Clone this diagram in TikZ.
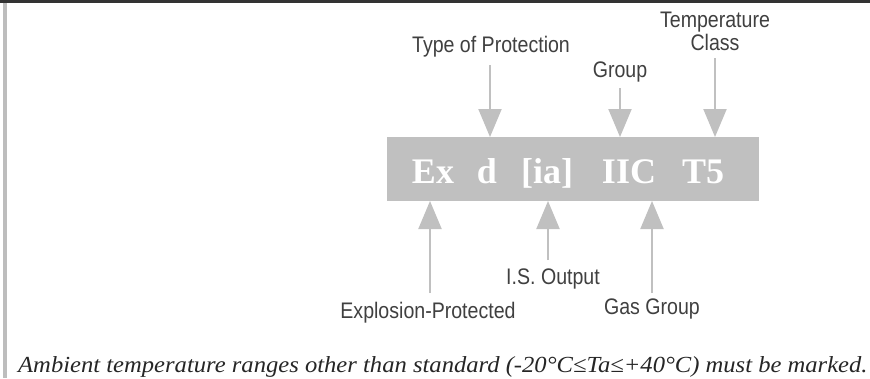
\documentclass[tikz,border=0pt]{standalone}
\usepackage{fontspec}
\usetikzlibrary{arrows.meta}
\newfontfamily\labfont[FakeStretch=0.87]{Liberation Sans}
\newfontfamily\boxfont{Liberation Serif}
\newfontfamily\capfont[FakeStretch=1.07]{Liberation Serif}
\definecolor{boxgray}{HTML}{C0C0C0}
\definecolor{labgray}{HTML}{404040}
\definecolor{bargray}{HTML}{333333}
\definecolor{edgegray}{HTML}{BDBDBD}
\tikzset{
  lab/.style={inner sep=0pt, anchor=base, text=labgray, font=\labfont\fontsize{22.5}{24}\selectfont},
  tok/.style={inner sep=0pt, anchor=base, text=white, font=\boxfont\bfseries\fontsize{36}{40}\selectfont},
  arr/.style={draw=boxgray, line width=2pt, -{Triangle[width=23pt,length=28pt]}},
}
\begin{document}
\begin{tikzpicture}[x=1pt,y=-1pt]
\useasboundingbox (0,0) rectangle (870,378);
\fill[white] (0,0) rectangle (870,378);
\fill[bargray] (0,0) rectangle (870,3);
\fill[edgegray] (3,3) rectangle (7,378);
% box
\node[fill=boxgray, inner sep=0pt, minimum width=372pt, minimum height=64pt, anchor=north west] (box) at (387,137) {};
\node[tok] (ex) at (433,183) {Ex};
\node[tok] (d) at (487,183) {d};
\node[tok] (ia) at (547,183) {[ia]};
\node[tok] (iic) at (629,183) {IIC};
\node[tok] (t5) at (703,183) {T5};
% top labels
\node[lab] (tp) at (491,52) {Type of Protection};
\node[lab] (grp) at (620,77) {Group};
\node[lab] (tc1) at (715,27) {Temperature};
\node[lab] (tc2) at (715,50) {Class};
% bottom labels
\node[lab] (ep) at (428,318) {Explosion-Protected};
\node[lab] (iso) at (553,284) {I.S. Output};
\node[lab] (gg) at (652,314) {Gas Group};
% arrow endpoints
\coordinate (tpS) at (490,65);  \coordinate (tpE) at (490,137);
\coordinate (grS) at (620,88);  \coordinate (grE) at (620,137);
\coordinate (tcS) at (715,58);  \coordinate (tcE) at (715,137);
\coordinate (epS) at (430,293); \coordinate (epE) at (430,201);
\coordinate (isS) at (548,260); \coordinate (isE) at (548,201);
\coordinate (ggS) at (652,293); \coordinate (ggE) at (652,201);
\draw[arr] (tpS) -- (tpE);
\draw[arr] (grS) -- (grE);
\draw[arr] (tcS) -- (tcE);
\draw[arr] (epS) -- (epE);
\draw[arr] (isS) -- (isE);
\draw[arr] (ggS) -- (ggE);
% caption
\node[inner sep=0pt, anchor=base west, text=black!85, font=\capfont\itshape\fontsize{23}{26}\selectfont] (cap) at (18,372) {Ambient temperature ranges other than standard (-20°C≤Ta≤+40°C) must be marked.};
\end{tikzpicture}
\end{document}
